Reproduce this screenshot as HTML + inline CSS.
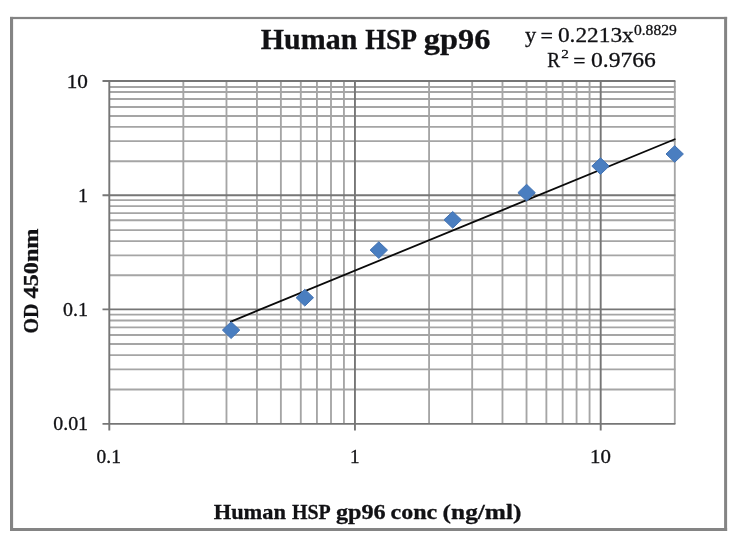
<!DOCTYPE html>
<html lang="en">
<head>
<meta charset="utf-8">
<title>Human HSP gp96</title>
<style>
html,body{margin:0;padding:0;background:#fff;}
body{width:748px;height:546px;overflow:hidden;}
svg{display:block;}
text{font-family:"Liberation Serif","DejaVu Serif",serif;fill:#111114;stroke:#111114;stroke-width:0.3px;white-space:pre;}
</style>
</head>
<body>
<svg width="748" height="546" viewBox="0 0 748 546">
<rect x="0" y="0" width="748" height="546" fill="#ffffff"/>
<g>
<g fill="#848484"><rect x="10" y="16.9" width="717.1" height="2.2"/><rect x="10" y="528" width="717.1" height="3"/><rect x="10" y="16.9" width="3.1" height="514.1"/><rect x="724.1" y="16.9" width="3" height="514.1"/></g>
<g stroke="#a5a5a5" stroke-width="1.85" fill="none">
<line x1="109.30" y1="389.49" x2="675.40" y2="389.49"/>
<line x1="109.30" y1="369.37" x2="675.40" y2="369.37"/>
<line x1="109.30" y1="355.08" x2="675.40" y2="355.08"/>
<line x1="109.30" y1="344.01" x2="675.40" y2="344.01"/>
<line x1="109.30" y1="334.96" x2="675.40" y2="334.96"/>
<line x1="109.30" y1="327.40" x2="675.40" y2="327.40"/>
<line x1="109.30" y1="320.50" x2="675.40" y2="320.50"/>
<line x1="109.30" y1="314.60" x2="675.40" y2="314.60"/>
<line x1="109.30" y1="275.20" x2="675.40" y2="275.20"/>
<line x1="109.30" y1="255.30" x2="675.40" y2="255.30"/>
<line x1="109.30" y1="241.10" x2="675.40" y2="241.10"/>
<line x1="109.30" y1="230.10" x2="675.40" y2="230.10"/>
<line x1="109.30" y1="220.20" x2="675.40" y2="220.20"/>
<line x1="109.30" y1="213.10" x2="675.40" y2="213.10"/>
<line x1="109.30" y1="206.10" x2="675.40" y2="206.10"/>
<line x1="109.30" y1="200.10" x2="675.40" y2="200.10"/>
<line x1="109.30" y1="161.20" x2="675.40" y2="161.20"/>
<line x1="109.30" y1="141.10" x2="675.40" y2="141.10"/>
<line x1="109.30" y1="126.90" x2="675.40" y2="126.90"/>
<line x1="109.30" y1="116.00" x2="675.40" y2="116.00"/>
<line x1="109.30" y1="107.00" x2="675.40" y2="107.00"/>
<line x1="109.30" y1="99.00" x2="675.40" y2="99.00"/>
<line x1="109.30" y1="92.00" x2="675.40" y2="92.00"/>
<line x1="109.30" y1="87.00" x2="675.40" y2="87.00"/>
<line x1="183.34" y1="81.00" x2="183.34" y2="423.90"/>
<line x1="226.48" y1="81.00" x2="226.48" y2="423.90"/>
<line x1="256.94" y1="81.00" x2="256.94" y2="423.90"/>
<line x1="280.88" y1="81.00" x2="280.88" y2="423.90"/>
<line x1="300.79" y1="81.00" x2="300.79" y2="423.90"/>
<line x1="316.93" y1="81.00" x2="316.93" y2="423.90"/>
<line x1="331.00" y1="81.00" x2="331.00" y2="423.90"/>
<line x1="343.94" y1="81.00" x2="343.94" y2="423.90"/>
<line x1="429.08" y1="81.00" x2="429.08" y2="423.90"/>
<line x1="472.17" y1="81.00" x2="472.17" y2="423.90"/>
<line x1="502.48" y1="81.00" x2="502.48" y2="423.90"/>
<line x1="526.53" y1="81.00" x2="526.53" y2="423.90"/>
<line x1="546.37" y1="81.00" x2="546.37" y2="423.90"/>
<line x1="562.65" y1="81.00" x2="562.65" y2="423.90"/>
<line x1="576.58" y1="81.00" x2="576.58" y2="423.90"/>
<line x1="589.56" y1="81.00" x2="589.56" y2="423.90"/>
<line x1="674.80" y1="81.00" x2="674.80" y2="423.90"/>
</g>
<g stroke="#767676" stroke-width="1.9" fill="none">
<line x1="102.50" y1="423.90" x2="675.40" y2="423.90"/>
<line x1="102.50" y1="309.40" x2="675.40" y2="309.40"/>
<line x1="102.50" y1="195.20" x2="675.40" y2="195.20"/>
<line x1="102.50" y1="81.00" x2="675.40" y2="81.00"/>
<line x1="109.30" y1="81.00" x2="109.30" y2="430.40"/>
<line x1="354.95" y1="81.00" x2="354.95" y2="430.40"/>
<line x1="600.70" y1="81.00" x2="600.70" y2="430.40"/>
</g>
<line x1="230.91" y1="321.55" x2="674.80" y2="139.27" stroke="#0a0a0a" stroke-width="1.8" stroke-linecap="round"/>
<g fill="#4a7ec0" stroke="#4373b3" stroke-width="1" stroke-linejoin="round">
<path d="M231.1 321.8L239.8 330.1L231.1 338.5L222.4 330.1Z"/>
<path d="M304.8 289.3L313.5 297.7L304.8 306.1L296.1 297.7Z"/>
<path d="M378.8 241.8L387.5 250.1L378.8 258.4L370.1 250.1Z"/>
<path d="M452.7 211.5L461.4 219.8L452.7 228.2L444.0 219.8Z"/>
<path d="M526.6 184.3L535.3 192.7L526.6 201.0L517.9 192.7Z"/>
<path d="M600.5 157.8L609.2 166.1L600.5 174.4L591.8 166.1Z"/>
<path d="M674.7 145.7L683.4 154.0L674.7 162.3L666.0 154.0Z"/>
</g>
<text font-weight="bold"><tspan x="260.79" y="49.00" font-size="29.5" textLength="96.56" lengthAdjust="spacingAndGlyphs">Human</tspan> <tspan x="365.35" y="49.00" font-size="29.5" textLength="51.74" lengthAdjust="spacingAndGlyphs">HSP</tspan> <tspan x="423.88" y="49.00" font-size="29.5" textLength="66.53" lengthAdjust="spacingAndGlyphs">gp96</tspan></text>
<text><tspan x="525.04" y="41.90" font-size="21.9" textLength="11.21" lengthAdjust="spacingAndGlyphs">y</tspan> <tspan x="540.60" y="43.20" font-size="22" textLength="12.48" lengthAdjust="spacingAndGlyphs">=</tspan> <tspan x="557.90" y="41.80" font-size="22" textLength="75.86" lengthAdjust="spacingAndGlyphs">0.2213x</tspan><tspan x="633.95" y="35.10" font-size="14.1" textLength="42.82" lengthAdjust="spacingAndGlyphs">0.8829</tspan></text>
<text><tspan x="547.36" y="66.80" font-size="21.9" textLength="12.84" lengthAdjust="spacingAndGlyphs">R</tspan><tspan x="561.21" y="57.70" font-size="12.9" textLength="7.62" lengthAdjust="spacingAndGlyphs">2</tspan> <tspan x="573.31" y="68.20" font-size="22" textLength="12.24" lengthAdjust="spacingAndGlyphs">=</tspan> <tspan x="591.00" y="66.80" font-size="22" textLength="64.81" lengthAdjust="spacingAndGlyphs">0.9766</tspan></text>
<text font-weight="bold"><tspan x="213.74" y="519.40" font-size="21.8" textLength="72.23" lengthAdjust="spacingAndGlyphs">Human</tspan> <tspan x="292.07" y="519.40" font-size="21.8" textLength="38.73" lengthAdjust="spacingAndGlyphs">HSP</tspan> <tspan x="335.94" y="519.40" font-size="21.8" textLength="49.80" lengthAdjust="spacingAndGlyphs">gp96</tspan> <tspan x="390.57" y="519.40" font-size="21.8" textLength="46.72" lengthAdjust="spacingAndGlyphs">conc</tspan> <tspan x="442.64" y="519.40" font-size="21.8" textLength="78.81" lengthAdjust="spacingAndGlyphs">(ng/ml)</tspan></text>
<text font-weight="bold" transform="translate(38.2 332.5) rotate(-90)"><tspan x="-0.91" y="0.00" font-size="21.8" textLength="29.88" lengthAdjust="spacingAndGlyphs">OD</tspan> <tspan x="34.12" y="0.00" font-size="21.8" textLength="69.92" lengthAdjust="spacingAndGlyphs">450nm</tspan></text>
<text><tspan x="66.65" y="88.00" font-size="19" textLength="21.19" lengthAdjust="spacingAndGlyphs">10</tspan></text>
<text><tspan x="78.06" y="201.70" font-size="19" textLength="9.99" lengthAdjust="spacingAndGlyphs">1</tspan></text>
<text><tspan x="63.01" y="315.80" font-size="19" textLength="24.94" lengthAdjust="spacingAndGlyphs">0.1</tspan></text>
<text><tspan x="53.21" y="430.10" font-size="19" textLength="34.83" lengthAdjust="spacingAndGlyphs">0.01</tspan></text>
<text><tspan x="96.64" y="463.00" font-size="19" textLength="24.18" lengthAdjust="spacingAndGlyphs">0.1</tspan></text>
<text><tspan x="350.04" y="463.00" font-size="19" textLength="9.57" lengthAdjust="spacingAndGlyphs">1</tspan></text>
<text><tspan x="589.98" y="463.00" font-size="19" textLength="20.84" lengthAdjust="spacingAndGlyphs">10</tspan></text>
</g>
</svg>
</body>
</html>
